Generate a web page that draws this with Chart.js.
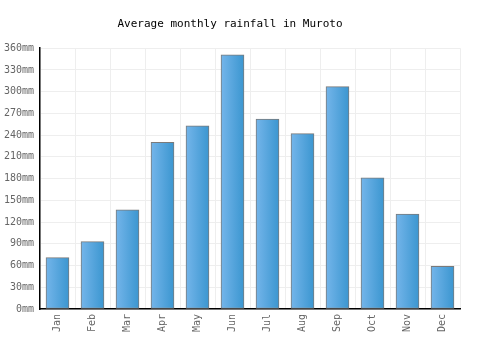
<!DOCTYPE html>
<html>
<head>
<meta charset="utf-8">
<script src="https://cdn.jsdelivr.net/npm/chart.js@4/dist/chart.umd.min.js"></script>
<style>
  html, body { margin: 0; padding: 0; background: #fff; }
  #wrap { width: 500px; height: 350px; }
</style>
</head>
<body>
<div id="wrap"><canvas id="chuva"></canvas></div>
<script>
const meses = ['Jan', 'Feb', 'Mar', 'Apr', 'May', 'Jun', 'Jul', 'Aug', 'Sep', 'Oct', 'Nov', 'Dec'];
const chuvaMm = [71, 93, 137, 230, 253, 351, 262, 242, 307, 181, 131, 59];
const yTicks = [0, 30, 60, 90, 120, 150, 180, 210, 240, 270, 300, 330, 360];

const fonte = "'DejaVu Sans Mono', monospace";
const larguraBarra = 23;

// gradiente horizontal por barra
function corBarra(ctx) {
    const chart = ctx.chart;
    const x = chart.scales.x;
    if (!x || !chart.chartArea || ctx.dataIndex === undefined) return '#55a5df';
    const centro = x.getPixelForValue(ctx.dataIndex);
    const meia = larguraBarra / 2;
    const g = chart.ctx.createLinearGradient(centro - meia, 0, centro + meia, 0);
    g.addColorStop(0, '#74b5ea');
    g.addColorStop(1, '#3b96d0');
    return g;
}

const ctx = document.getElementById('chuva').getContext('2d');
window.chartChuva = new Chart(ctx, {
    type: 'bar',
    data: {
        labels: meses,
        datasets: [{
            label: 'Rainfall',
            data: chuvaMm,
            backgroundColor: corBarra,
            borderColor: '#7a7a7a',
            borderWidth: 1,
            borderSkipped: false,
            barThickness: larguraBarra
        }]
    },
    options: {
        responsive: true,
        maintainAspectRatio: false,
        animation: false,
        layout: { padding: { left: 0, right: 40, top: 0, bottom: 0 } },
        plugins: {
            legend: { display: false },
            tooltip: { enabled: false },
            title: {
                display: true,
                text: 'Average monthly rainfall in Muroto',
                color: '#000',
                font: { family: fonte, size: 11, weight: 'normal' },
                padding: { top: 18, bottom: 17 }
            }
        },
        scales: {
            x: {
                offset: true,
                grid: { color: '#eeeeee', offset: true, drawTicks: false },
                border: { color: '#000', width: 1.5 },
                ticks: {
                    color: '#666',
                    font: { family: fonte, size: 10 },
                    minRotation: 90,
                    maxRotation: 90,
                    padding: 5
                },
                afterFit: function(scale) { scale.height = 41; }
            },
            y: {
                min: 0,
                max: 360,
                afterBuildTicks: function(scale) {
                    scale.ticks = yTicks.map(v => ({ value: v }));
                },
                grid: { color: '#eeeeee', drawTicks: false },
                border: { color: '#000', width: 1.5 },
                ticks: {
                    color: '#666',
                    font: { family: fonte, size: 10 },
                    padding: 6,
                    callback: v => v + 'mm'
                },
                afterFit: function(scale) { scale.width = 40; }
            }
        }
    }
});
</script>
</body>
</html>
